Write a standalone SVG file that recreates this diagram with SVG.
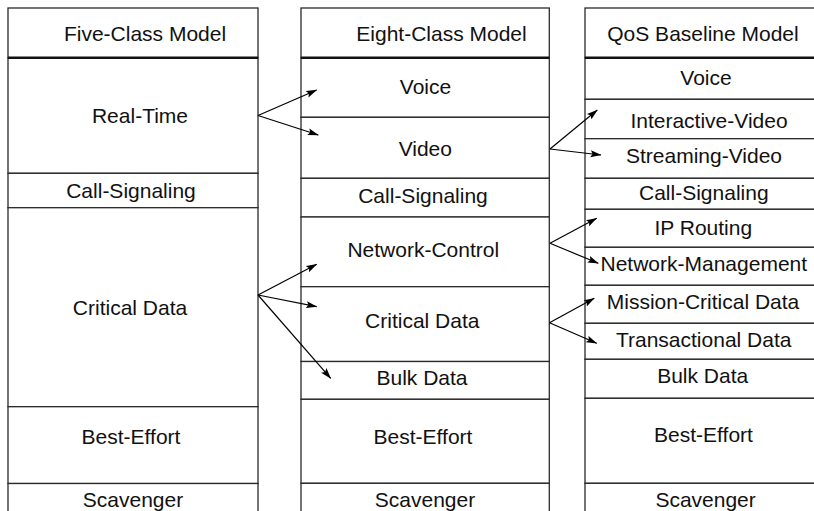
<svg xmlns="http://www.w3.org/2000/svg" width="814" height="511" viewBox="0 0 814 511">
<style>
  .c{fill:#fff;stroke:#2a2a2a;stroke-width:1.3}
  .hl{stroke:#111;stroke-width:2.4}
  text{font-family:"Liberation Sans",Arial,Helvetica,sans-serif;font-size:21px;fill:#111;text-anchor:middle}
  .a{stroke:#000;stroke-width:1.2;fill:none;marker-end:url(#ah)}
</style>
<defs>
  <marker id="ah" markerUnits="userSpaceOnUse" viewBox="0 0 11 8" refX="10.5" refY="4" markerWidth="11" markerHeight="8" orient="auto">
    <path d="M0,0.5 L11,4 L0,7.5 L2,4 z" fill="#000"/>
  </marker>
</defs>
<rect width="814" height="511" fill="#fff"/>

<g id="col1">
  <g id="five-header"><rect class="c" x="8" y="8" width="250" height="49.7"/><text x="145" y="40.5">Five-Class Model</text></g>
  <g id="five-realtime"><rect class="c" x="8" y="57.7" width="250" height="115.6"/><text x="140" y="123">Real-Time</text></g>
  <g id="five-callsig"><rect class="c" x="8" y="173.3" width="250" height="34.4"/><text x="131" y="198">Call-Signaling</text></g>
  <g id="five-critical"><rect class="c" x="8" y="207.7" width="250" height="199"/><text x="130" y="315">Critical Data</text></g>
  <g id="five-best"><rect class="c" x="8" y="406.7" width="250" height="76.8"/><text x="131" y="443.5">Best-Effort</text></g>
  <g id="five-scav"><rect class="c" x="8" y="483.5" width="250" height="40"/><text x="133" y="506.5">Scavenger</text></g>
  <line class="hl" x1="8" y1="57.7" x2="258" y2="57.7"/>
</g>

<g id="col2">
  <g id="eight-header"><rect class="c" x="301" y="8" width="248.3" height="49.7"/><text x="441.5" y="40.5">Eight-Class Model</text></g>
  <g id="eight-voice"><rect class="c" x="301" y="57.7" width="248.3" height="59.6"/><text x="425.5" y="94">Voice</text></g>
  <g id="eight-video"><rect class="c" x="301" y="117.3" width="248.3" height="61"/><text x="425.3" y="156">Video</text></g>
  <g id="eight-callsig"><rect class="c" x="301" y="178.3" width="248.3" height="38.7"/><text x="423" y="203">Call-Signaling</text></g>
  <g id="eight-netctl"><rect class="c" x="301" y="217" width="248.3" height="69.7"/><text x="423.3" y="256.5">Network-Control</text></g>
  <g id="eight-critical"><rect class="c" x="301" y="286.7" width="248.3" height="74.8"/><text x="422.3" y="328.3">Critical Data</text></g>
  <g id="eight-bulk"><rect class="c" x="301" y="361.5" width="248.3" height="37.8"/><text x="422" y="385">Bulk Data</text></g>
  <g id="eight-best"><rect class="c" x="301" y="399.3" width="248.3" height="84"/><text x="423" y="443.5">Best-Effort</text></g>
  <g id="eight-scav"><rect class="c" x="301" y="483.3" width="248.3" height="40"/><text x="425" y="506.5">Scavenger</text></g>
  <line class="hl" x1="301" y1="57.7" x2="549.3" y2="57.7"/>
</g>

<g id="col3">
  <g id="qos-header"><rect class="c" x="585" y="8" width="240" height="49.7"/><text x="703" y="40.5">QoS Baseline Model</text></g>
  <g id="qos-voice"><rect class="c" x="585" y="57.7" width="240" height="41.6"/><text x="706" y="85">Voice</text></g>
  <g id="qos-ivideo"><rect class="c" x="585" y="99.3" width="240" height="39.4"/><text x="709" y="128.3">Interactive-Video</text></g>
  <g id="qos-svideo"><rect class="c" x="585" y="138.7" width="240" height="39.6"/><text x="704" y="163.3">Streaming-Video</text></g>
  <g id="qos-callsig"><rect class="c" x="585" y="178.3" width="240" height="31"/><text x="703.8" y="200">Call-Signaling</text></g>
  <g id="qos-iprouting"><rect class="c" x="585" y="209.3" width="240" height="38"/><text x="703.3" y="235">IP Routing</text></g>
  <g id="qos-netmgmt"><rect class="c" x="585" y="247.3" width="240" height="38"/><text x="703.8" y="271">Network-Management</text></g>
  <g id="qos-mission"><rect class="c" x="585" y="285.3" width="240" height="38"/><text x="703" y="309.3">Mission-Critical Data</text></g>
  <g id="qos-trans"><rect class="c" x="585" y="323.3" width="240" height="36"/><text x="703.7" y="346.7">Transactional Data</text></g>
  <g id="qos-bulk"><rect class="c" x="585" y="359.3" width="240" height="39"/><text x="702.7" y="383.3">Bulk Data</text></g>
  <g id="qos-best"><rect class="c" x="585" y="398.3" width="240" height="85"/><text x="703.5" y="441.7">Best-Effort</text></g>
  <g id="qos-scav"><rect class="c" x="585" y="483.3" width="240" height="40"/><text x="705.6" y="506.5">Scavenger</text></g>
  <line class="hl" x1="585" y1="57.7" x2="825" y2="57.7"/>
</g>

<g id="connectors">
  <line class="a" x1="258" y1="115.5" x2="316.7" y2="90"/>
  <line class="a" x1="258" y1="115.5" x2="318.3" y2="135"/>
  <line class="a" x1="550" y1="149" x2="597.3" y2="110"/>
  <line class="a" x1="550" y1="149" x2="601" y2="155"/>
  <line class="a" x1="258" y1="295" x2="316.7" y2="264.3"/>
  <line class="a" x1="258" y1="295" x2="316.7" y2="306.7"/>
  <line class="a" x1="258" y1="295" x2="330.7" y2="378.3"/>
  <line class="a" x1="550" y1="243.3" x2="596.7" y2="218.3"/>
  <line class="a" x1="550" y1="243.3" x2="598.3" y2="263.3"/>
  <line class="a" x1="549.5" y1="322.7" x2="594.3" y2="298.3"/>
  <line class="a" x1="549.5" y1="322.7" x2="596.7" y2="343.3"/>
</g>
</svg>
